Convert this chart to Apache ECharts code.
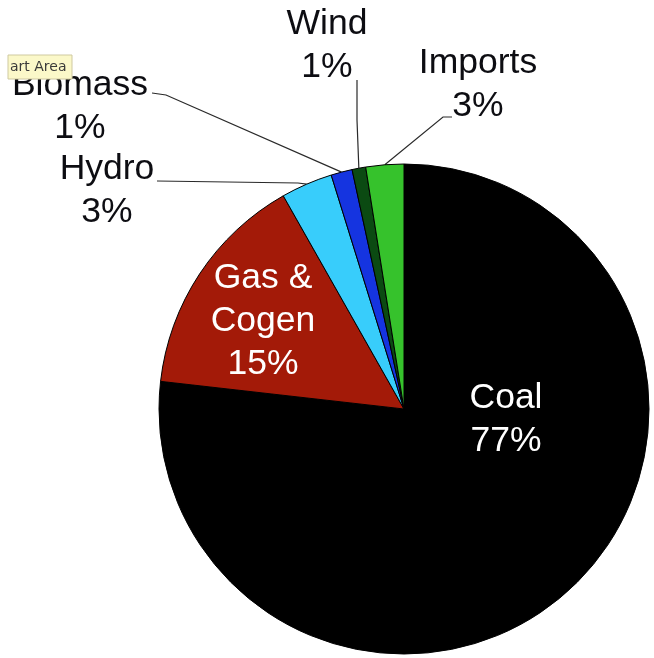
<!DOCTYPE html>
<html>
<head>
<meta charset="utf-8">
<title>Electricity generation mix</title>
<script src="https://cdn.jsdelivr.net/npm/echarts@6/dist/echarts.min.js"></script>
<style>
  html, body { margin: 0; padding: 0; background: #ffffff; }
  #chart { width: 654px; height: 658px; }
</style>
</head>
<body>
<div id="chart"></div>
<script>
// Generation sources and their shares of the total (percent)
const sources = ['Coal', 'Gas & Cogen', 'Hydro', 'Biomass', 'Wind', 'Imports'];
const shares = [76.8, 15.0, 3.4, 1.4, 0.9, 2.5];
const sliceColors = ['#000000', '#a31a08', '#38cdfb', '#1534e0', '#0b4a12', '#36c22c'];

// Sources whose label sits inside the slice
const insideLabels = ['Coal', 'Gas & Cogen'];

// Where each label block is centred, and the bend/end points of its leader line
const labelAt = {
  'Coal': [506, 420],
  'Gas & Cogen': [263, 321],
  'Hydro': [107, 191],
  'Biomass': [80, 107],
  'Wind': [327, 46],
  'Imports': [478, 85]
};
const leaderTail = {
  'Hydro': [[298, 183], [157, 181]],
  'Biomass': [[166, 95], [152, 93]],
  'Wind': [[357, 120], [357, 80]],
  'Imports': [[443, 117], [452, 117]]
};

const FONT = '"Liberation Sans", Arial, Helvetica, sans-serif';

const chart = echarts.init(document.getElementById('chart'), null, { renderer: 'canvas' });

const pieData = sources.map((name, i) => {
  const inside = insideLabels.indexOf(name) >= 0;
  return {
    name: name,
    value: shares[i],
    itemStyle: { color: sliceColors[i] },
    label: inside ? { position: 'inside', color: '#ffffff' } : { position: 'outside', color: '#0d0d12' },
    labelLine: { show: !inside }
  };
});

chart.setOption({
  animation: false,
  backgroundColor: '#ffffff',
  series: [{
    type: 'pie',
    center: [404, 409],
    radius: 245,
    startAngle: 90,
    clockwise: true,
    avoidLabelOverlap: false,
    minShowLabelAngle: 0,
    percentPrecision: 2,
    itemStyle: { borderColor: '#000000', borderWidth: 1 },
    label: {
      fontFamily: FONT,
      fontSize: 35.5,
      lineHeight: 43,
      align: 'center',
      formatter: p => p.name.replace(' & ', ' &\n') + '\n' + Math.round(p.percent) + '%'
    },
    labelLine: {
      lineStyle: { color: '#2a2a2a', width: 1.2 }
    },
    labelLayout: function (params) {
      const name = sources[params.dataIndex];
      const pos = labelAt[name];
      const out = { x: pos[0], y: pos[1], align: 'center', verticalAlign: 'middle' };
      const tail = leaderTail[name];
      if (tail && params.labelLinePoints) {
        out.labelLinePoints = [params.labelLinePoints[0], tail[0], tail[1]];
      }
      return out;
    },
    emphasis: { disabled: true },
    data: pieData
  }],
  graphic: [
    {
      type: 'rect',
      z: 100,
      shape: { x: 8, y: 55, width: 64, height: 24 },
      style: { fill: '#fbf8c9', stroke: '#cfc9a0', lineWidth: 1 }
    },
    {
      type: 'text',
      z: 101,
      x: 10,
      y: 67,
      style: {
        text: 'art Area',
        fontFamily: '"DejaVu Sans", sans-serif',
        fontSize: 14,
        fill: '#3a3a3a',
        verticalAlign: 'middle'
      }
    }
  ]
});
</script>
</body>
</html>
